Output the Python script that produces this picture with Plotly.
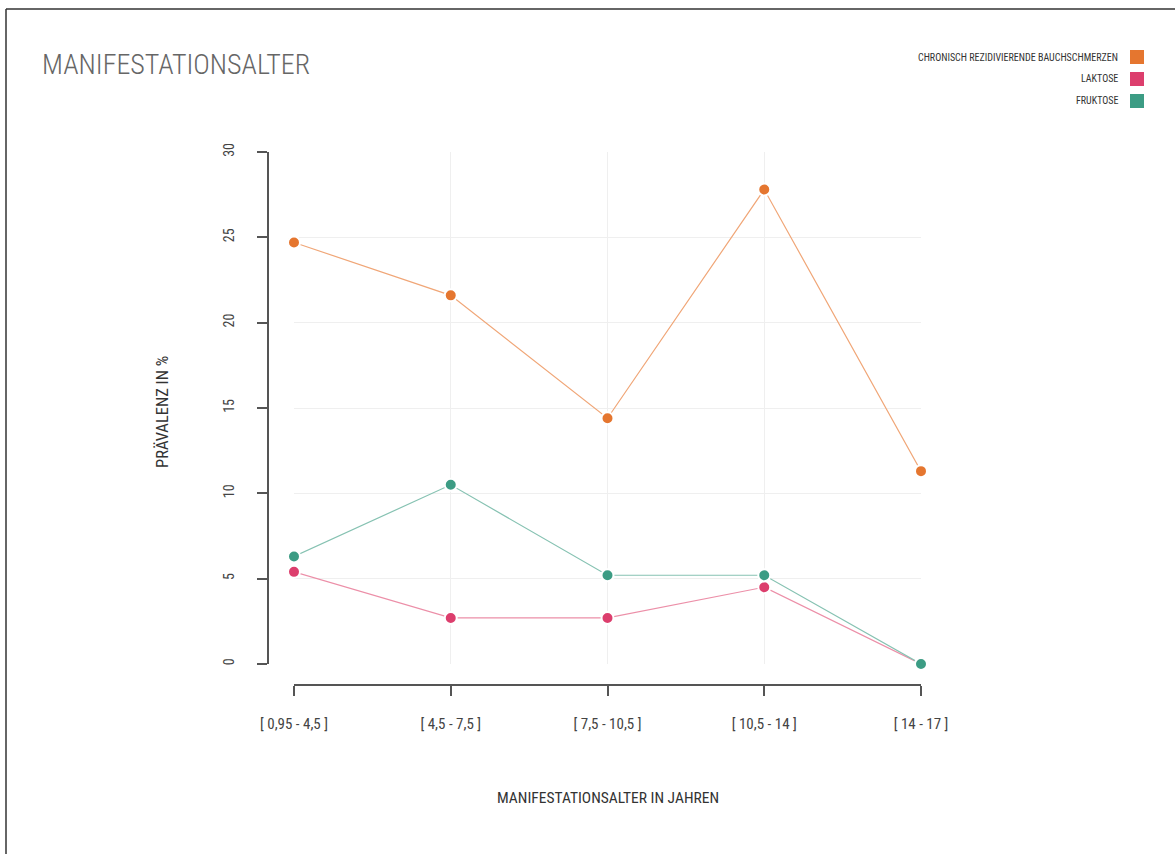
import plotly.graph_objects as go

categories = ["[ 0,95 - 4,5 ]", "[ 4,5 - 7,5 ]", "[ 7,5 - 10,5 ]", "[ 10,5 - 14 ]", "[ 14 - 17 ]"]
series_names = ["CHRONISCH REZIDIVIERENDE BAUCHSCHMERZEN", "LAKTOSE", "FRUKTOSE"]
bauchschmerzen = [24.7, 21.6, 14.4, 27.8, 11.3]
laktose = [5.4, 2.7, 2.7, 4.5, 0.0]
fruktose = [6.3, 10.5, 5.2, 5.2, 0.0]
y_ticks = [0, 5, 10, 15, 20, 25, 30]

colors = ["#E5762F", "#DC3E6D", "#3C9C84"]
line_colors = ["#F0A677", "#EC8FA8", "#86C2B2"]

FONT = "Roboto Condensed, DejaVu Sans Condensed, sans-serif"
W, H = 1175, 854
L, R, T, B = 268, 921, 152, 685  # paper box in pixels

def px(x):
    return (x - L) / (R - L)

def py(y):
    return (B - y) / (B - T)

fig = go.Figure()
xs = list(range(len(categories)))
order = [(laktose, 1), (fruktose, 2), (bauchschmerzen, 0)]
for vals, i in order:
    fig.add_trace(go.Scatter(
        x=xs, y=vals, mode="lines+markers", name=series_names[i],
        line=dict(color=line_colors[i], width=1.2),
        marker=dict(color=colors[i], size=12, line=dict(color="white", width=2)),
        cliponaxis=False, showlegend=False,
    ))

fig.update_layout(
    width=W, height=H,
    margin=dict(l=L, r=W - R, t=T, b=H - B, pad=0),
    paper_bgcolor="white", plot_bgcolor="white",
    font=dict(family=FONT, color="#444"),
    title=dict(text="MANIFESTATIONSALTER", x=42 / W, xanchor="left", xref="container",
               y=(H - 64) / H, yanchor="middle", yref="container",
               font=dict(family=FONT, size=28, color="#666", weight=300)),
    xaxis=dict(domain=[px(294), 1], range=[0, 4], anchor="free", position=0,
               tickmode="array", tickvals=xs, ticktext=categories,
               showline=True, linecolor="#555", linewidth=2,
               ticks="outside", ticklen=10, tickwidth=2, tickcolor="#555",
               ticklabelstandoff=15,
               showgrid=True, gridcolor="#EFEFEF", gridwidth=1, zeroline=False,
               tickfont=dict(family=FONT, size=15, color="#444")),
    yaxis=dict(domain=[py(664), 1], range=[0, 30], anchor="free", position=0,
               tickmode="array", tickvals=y_ticks,
               showline=True, linecolor="#555", linewidth=2,
               ticks="outside", ticklen=10, tickwidth=2, tickcolor="#555",
               tickangle=-90, ticklabelstandoff=17,
               showgrid=True, gridcolor="#EFEFEF", gridwidth=1, zeroline=False,
               tickfont=dict(family=FONT, size=14, color="#444")),
)

fig.add_annotation(text="PRÄVALENZ IN %", x=px(162), y=py(412), xref="paper", yref="paper",
                   textangle=-90, showarrow=False, xanchor="center", yanchor="middle",
                   font=dict(family=FONT, size=16.5, color="#333"))
fig.add_annotation(text="MANIFESTATIONSALTER IN JAHREN", x=px(608), y=py(798), xref="paper", yref="paper",
                   showarrow=False, xanchor="center", yanchor="middle",
                   font=dict(family=FONT, size=15.5, color="#333"))

rows = [57, 79, 101]
for i, name in enumerate(series_names):
    fig.add_annotation(text=name, x=px(1120), y=py(rows[i]), xref="paper", yref="paper",
                       showarrow=False, xanchor="right", yanchor="middle",
                       font=dict(family=FONT, size=10, color="#333"))
    fig.add_shape(type="rect", xref="paper", yref="paper",
                  x0=px(1130), x1=px(1144), y0=py(rows[i] + 7), y1=py(rows[i] - 7),
                  fillcolor=colors[i], line=dict(color=colors[i], width=0))

fig.add_shape(type="line", xref="paper", yref="paper", x0=px(6), x1=px(6), y0=py(9), y1=py(H + 5),
              line=dict(color="#333", width=1.5))
fig.add_shape(type="line", xref="paper", yref="paper", x0=px(6), x1=px(W + 5), y0=py(9), y1=py(9),
              line=dict(color="#333", width=1.5))

fig.write_html("out.html", config={"displayModeBar": False},
               post_script="document.body.style.margin='0';")
